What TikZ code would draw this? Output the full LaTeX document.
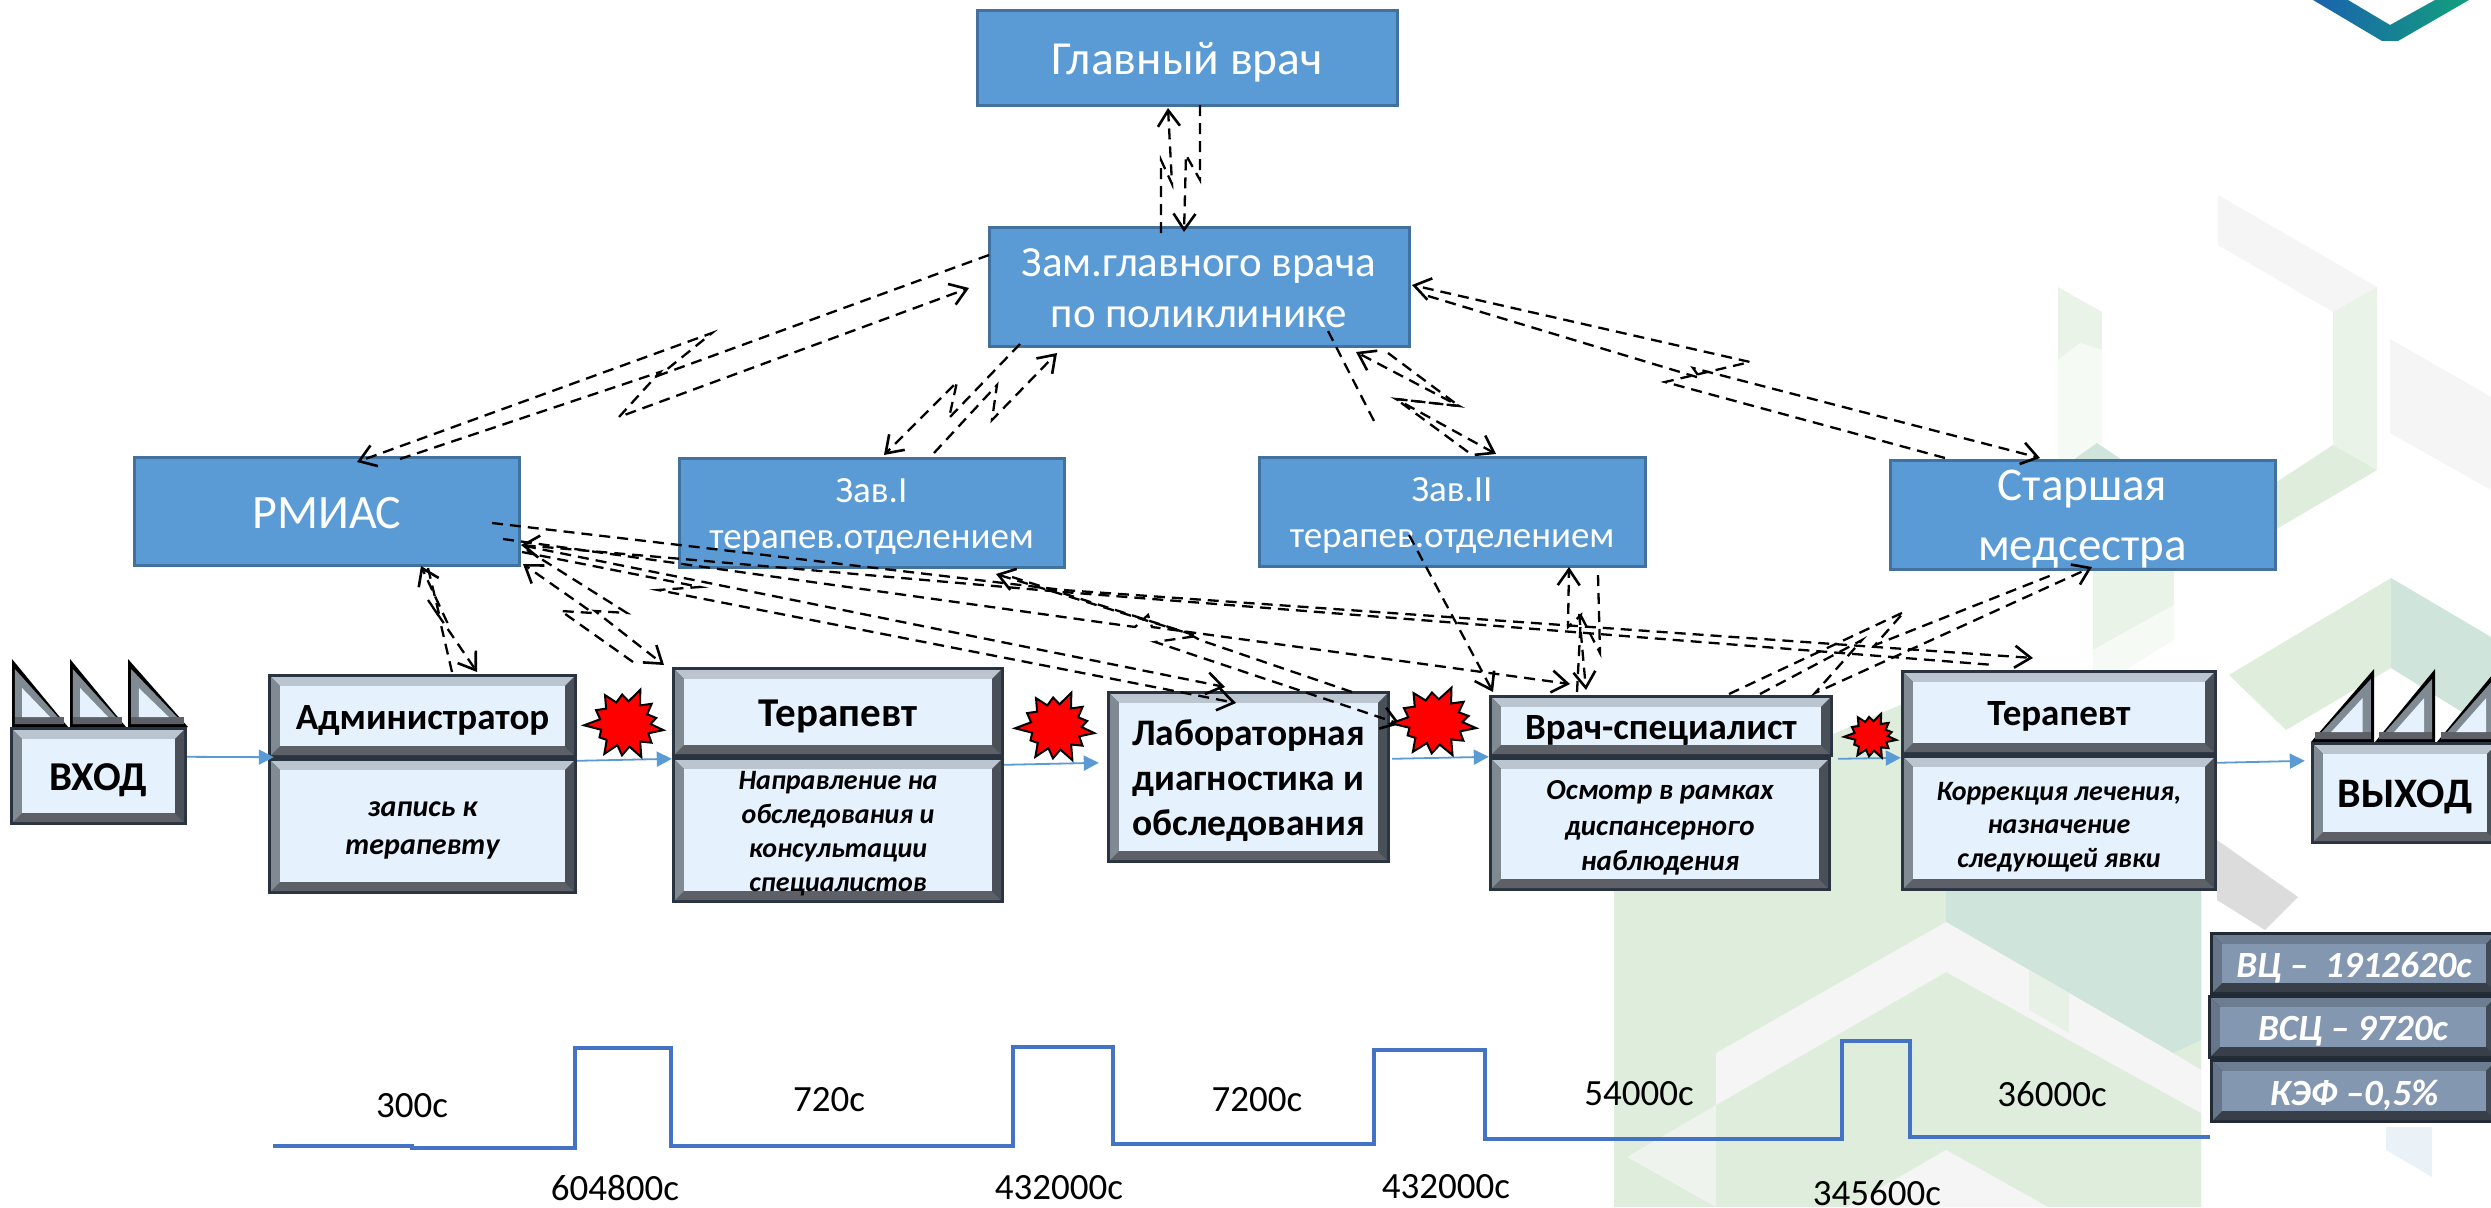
\documentclass[tikz,border=0pt]{standalone}
\usepackage{fontspec}
\setmainfont{Carlito}
\usetikzlibrary{arrows.meta,calc}
\definecolor{lightT}{HTML}{BAC5D0}\definecolor{lightL}{HTML}{7F8A93}\definecolor{lightR}{HTML}{4A5058}\definecolor{lightB}{HTML}{5D6167}\definecolor{lightF}{HTML}{E5F1FD}\definecolor{lightO}{HTML}{2A3440}
\definecolor{darkT}{HTML}{6C7C91}\definecolor{darkL}{HTML}{66758A}\definecolor{darkR}{HTML}{414A57}\definecolor{darkB}{HTML}{383F49}\definecolor{darkF}{HTML}{8497B0}\definecolor{darkO}{HTML}{222A35}
\definecolor{boxblue}{HTML}{5B9BD5}\definecolor{boxedge}{HTML}{41719C}\definecolor{wave}{HTML}{4472C4}
\definecolor{bgG}{HTML}{F5F5F5}\definecolor{bgP}{HTML}{EAF3E8}\definecolor{bgW}{HTML}{F6FAF5}\definecolor{bgM}{HTML}{DFEEDC}\definecolor{bgT}{HTML}{CFE4DA}\definecolor{bgD}{HTML}{DCDCDC}
\definecolor{logoB}{HTML}{1A62AE}\definecolor{logoE}{HTML}{12A07C}
\newcommand{\fs}[2]{\fontsize{#1}{#2}\selectfont}
\tikzset{
  x=1pt,y=-1pt,
  bluebox/.style={fill=boxblue,draw=boxedge,line width=3pt,inner sep=0pt},
  boxtext/.style={inner sep=0pt,text=white,align=center},
  dashconn/.style={draw=black,line width=2.3pt,dash pattern=on 11pt off 7pt,line join=miter},
  dashtip/.style={dashconn,-{Straight Barb[length=16pt,width=22pt,line width=2.6pt]}},
  dashback/.style={dashconn,{Straight Barb[length=16pt,width=22pt,line width=2.6pt]}-},
  flow/.style={draw=boxblue,line width=1.8pt,-{Triangle[length=15pt,width=15pt]}},
  blast/.style={fill=red,draw=black,line width=2pt,line join=miter,miter limit=4},
  lab/.style={inner sep=0pt,font=\fs{37}{37}},
}
% scheme; name, x1, y1, x2, y2, font, text
\newcommand{\bevelbox}[8][light]{%
  \fill[#1O] (#3,#4) rectangle (#5,#6);
  \fill[#1T] (#3+3,#4+3) -- (#5-3,#4+3) -- (#5-12,#4+12) -- (#3+12,#4+12) -- cycle;
  \fill[#1B] (#3+3,#6-3) -- (#5-3,#6-3) -- (#5-12,#6-12) -- (#3+12,#6-12) -- cycle;
  \fill[#1L] (#3+3,#4+3) -- (#3+12,#4+12) -- (#3+12,#6-12) -- (#3+3,#6-3) -- cycle;
  \fill[#1R] (#5-3,#4+3) -- (#5-12,#4+12) -- (#5-12,#6-12) -- (#5-3,#6-3) -- cycle;
  \fill[#1F] (#3+12,#4+12) rectangle (#5-12,#6-12);
  \node[inner sep=0pt,minimum width={#5-#3},minimum height={#6-#4}] (#2) at ({(#3+#5)/2},{(#4+#6)/2}) {};
  \node[inner sep=0pt,align=center,font=#7] (#2txt) at ([yshift=-4pt]#2.center) {#8};
}
% tip x, tip y, base y, signed width
\newcommand{\tooth}[4]{%
  \fill[black] (#1,#2) -- (#1,#3) -- (#1+#4,#3) -- cycle;
  \fill[lightL] (#1+0.05*#4,#2+10) -- (#1+0.05*#4,#3-3) -- (#1+0.93*#4,#3-3) -- cycle;
  \fill[lightB] (#1+0.05*#4,#3-10) -- (#1+0.93*#4,#3-10) -- (#1+0.93*#4,#3-3) -- (#1+0.05*#4,#3-3) -- cycle;
  \fill[lightF] (#1+0.18*#4,#2+29) -- (#1+0.18*#4,#3-10) -- (#1+0.68*#4,#3-10) -- cycle;
}
% name, centre x, centre y, half width, half height
\newcommand{\burst}[5]{%
  \coordinate (#1) at (#2,#3);
  \filldraw[blast,shift={(#2,#3)},xscale=#4,yscale=#5]
   (10:.95)--(24:.62)--(38:.82)--(52:.6)--(66:.98)--(80:.62)--(95:.85)--(108:.6)--(122:.95)--(136:.62)--(150:.72)--(165:.6)--(178:1)--(192:.62)--(208:.8)--(222:.62)--(238:.92)--(250:.62)--(265:.8)--(278:.62)--(292:1)--(306:.62)--(320:.85)--(334:.6)--(348:.78)--(0:.62)--cycle;
}
\begin{document}
\begin{tikzpicture}
\useasboundingbox (0,0) rectangle (2491,1207);
\clip (0,0) rectangle (2491,1207);
\fill[white] (0,0) rectangle (2491,1207);
% background decoration
\fill[bgG] (2218,195) -- (2377,287) -- (2333,312) -- (2218,245) -- cycle;
\fill[bgP] (2377,287) -- (2333,312) -- (2333,445) -- (2377,470) -- cycle;
\fill[bgP] (2058,287) -- (2102,312) -- (2102,350) -- (2080,343) -- (2058,360) -- cycle;
\fill[bgW] (2058,360) -- (2080,343) -- (2102,350) -- (2102,443) -- (2058,467) -- cycle;
\fill[bgG] (2390,339) -- (2491,397) -- (2491,490) -- (2390,433) -- cycle;
\fill[bgM] (2333,445) -- (2377,470) -- (2275,530) -- (2275,483) -- cycle;
\fill[bgT] (2097,443) -- (2125,462) -- (2070,462) -- cycle;
\fill[bgP] (2093,569) -- (2174,569) -- (2174,605) -- (2093,650) -- cycle;
\fill[bgW] (2093,650) -- (2174,605) -- (2174,640) -- (2093,690) -- cycle;
\fill[bgM] (2391,578) -- (2391,668) -- (2286,730) -- (2229,675) -- cycle;
\fill[bgT] (2391,578) -- (2491,637) -- (2491,730) -- (2391,668) -- cycle;
\fill[bgM] (1614,1207) -- (1614,830) -- (1900,705) -- (2000,690) -- (2201,690) -- (2201,1207) -- cycle;
\fill[bgT] (1946,700) -- (2201,700) -- (2201,1040) -- (2173,1053) -- (1946,922) -- cycle;
\fill[bgD] (2217,840) -- (2298,897) -- (2265,930) -- (2217,900) -- cycle;
\fill[bgG] (1946,922) -- (2173,1053) -- (2201,1070) -- (2201,1113) -- (1946,972) -- (1716,1105) -- (1716,1053) -- cycle;
\fill[bgG!70!bgM] (1716,1105) -- (1627,1157) -- (1716,1207) -- cycle;
\fill[bgG] (1946,1150) -- (2048,1207) -- (1847,1207) -- cycle;
\fill[bgM!60!bgG] (2029,970) -- (2069,993) -- (2069,1033) -- (2029,1010) -- cycle;
\fill[bgW!60!boxblue!30!white] (2386,1127) -- (2432,1127) -- (2432,1177) -- (2386,1150) -- cycle;
% logo
\shade[left color=logoB,middle color=logoB,right color=logoE] (2313,0) -- (2382,41) -- (2398,41) -- (2469,0) -- (2435,0) -- (2390,25) -- (2348,0) -- cycle;
% blue boxes
\node[bluebox,minimum width=420pt,minimum height=94pt] (chief) at (1187,58) {};
\node[boxtext,font=\fs{47.5}{54}] (chieftxt) at ([yshift=-4pt]chief.center) {Главный врач};
\node[bluebox,minimum width=420pt,minimum height=119pt] (deputy) at (1199,286.5) {};
\node[boxtext,font=\fs{43}{51}] (deputytxt) at ([yshift=-2pt]deputy.center) {Зам.главного врача\\по поликлинике};
\node[bluebox,minimum width=385pt,minimum height=108pt] (rmias) at (327,511) {};
\node[boxtext,font=\fs{48}{50}] (rmiastxt) at ([yshift=-2pt]rmias.center) {РМИАС};
\node[bluebox,minimum width=385pt,minimum height=109pt] (headone) at (871.5,512.5) {};
\node[boxtext,font=\fs{37}{46}] (headonetxt) at ([yshift=-4pt]headone.center) {Зав.I\\терапев.отделением};
\node[bluebox,minimum width=386pt,minimum height=109pt] (headtwo) at (1452,511.5) {};
\node[boxtext,font=\fs{37}{46}] (headtwotxt) at ([yshift=-4pt]headtwo.center) {Зав.II\\терапев.отделением};
\node[bluebox,minimum width=385pt,minimum height=109pt] (nurse) at (2082.5,514.5) {};
\node[boxtext,font=\fs{47}{60}] (nursetxt) at ([yshift=-5pt]nurse.center) {Старшая\\медсестра};
% factories
\tooth{12}{659}{727}{56}\tooth{70}{659}{727}{56}\tooth{128}{659}{727}{60}
\tooth{2374}{669}{742}{-63}\tooth{2435}{669}{742}{-60}\tooth{2497}{669}{742}{-60}
% process boxes
\bevelbox{enter}{10}{727}{187}{825}{\fs{41}{41}\bfseries}{ВХОД}
\bevelbox{admin}{268}{674}{577}{758}{\fs{37}{37}\bfseries}{Администратор}
\bevelbox{admintask}{268}{758}{577}{894}{\fs{30}{38}\bfseries\itshape}{запись к\\терапевту}
\bevelbox{ther}{672}{667}{1004}{757}{\fs{41}{41}\bfseries}{Терапевт}
\bevelbox{thertask}{672}{757}{1004}{903}{\fs{28}{34}\bfseries\itshape}{Направление на\\обследования и\\консультации\\специалистов}
\bevelbox{lab}{1107}{691}{1390}{863}{\fs{37.5}{45}\bfseries}{Лабораторная\\диагностика и\\обследования}
\bevelbox{spec}{1489}{695}{1833}{757}{\fs{37}{37}\bfseries}{Врач-специалист}
\bevelbox{spectask}{1489}{757}{1831}{891}{\fs{29}{35.5}\bfseries\itshape}{Осмотр в рамках\\диспансерного\\наблюдения}
\bevelbox{thertwo}{1901}{670}{2217}{755}{\fs{37}{37}\bfseries}{Терапевт}
\bevelbox{thertwotask}{1901}{755}{2217}{891}{\fs{28}{33.5}\bfseries\itshape}{Коррекция лечения,\\назначение\\следующей явки}
\bevelbox{leave}{2311}{742}{2499}{844}{\fs{42}{42}\bfseries}{ВЫХОД}
% summary boxes
\bevelbox[dark]{cyclea}{2210}{932}{2498}{995}{\color{white}\fs{37}{37}\bfseries\itshape}{ВЦ –\ \ 1912620с}
\bevelbox[dark]{cycleb}{2208}{995}{2498}{1059}{\color{white}\fs{37}{37}\bfseries\itshape}{ВСЦ – 9720с}
\bevelbox[dark]{cyclec}{2210}{1059}{2498}{1123}{\color{white}\fs{37}{37}\bfseries\itshape}{КЭФ –0,5\%}
% flow arrows
\draw[flow] ([yshift=-30pt]enter.north east) -- ([xshift=6pt,yshift=1pt]admin.south west);
\draw[flow] ([yshift=-3pt]admintask.north east) -- ([yshift=-2pt]thertask.north west);
\draw[flow] ([yshift=-8pt]thertask.north east) -- ([xshift=-8pt,yshift=-72pt]lab.north west);
\draw[flow] ([xshift=2pt,yshift=-68pt]lab.north east) -- ([yshift=-62pt]spec.north west);
\draw[flow] ([xshift=7pt,yshift=-2pt]spectask.north east) -- ([yshift=-3pt]thertwotask.north west);
\draw[flow] ([yshift=-8pt]thertwotask.north east) -- ([xshift=-6pt,yshift=-19pt]leave.north west);
% free ends of the dashed connectors
\path (1161,233) coordinate (ca) (1168,108) coordinate (cb)
      (1200,105) coordinate (cc) (1184,232) coordinate (cd)
      (989,255) coordinate (ce) (357,462) coordinate (cf)
      (400,459) coordinate (cg) (969,288) coordinate (ch)
      (1020,344) coordinate (ci) (884,455) coordinate (cj)
      (934,453) coordinate (ck) (1057,353) coordinate (cl)
      (1388,353) coordinate (cm) (1496,454) coordinate (cn)
      (1468,452) coordinate (co) (1356,352) coordinate (cp)
      (1328,331) coordinate (cq) (1375,423) coordinate (cr)
      (1945,458) coordinate (cs) (1412,285) coordinate (ct)
      (1428,296) coordinate (cu) (2040,458) coordinate (cv)
      (1729,694) coordinate (cw) (2052,575) coordinate (cx)
      (1760,694) coordinate (cy) (2092,567) coordinate (cz)
      (1409,535) coordinate (da) (1493,692) coordinate (db)
      (1577,692) coordinate (dc) (1569,567) coordinate (dd)
      (1598,575) coordinate (de) (1586,690) coordinate (df)
      (492,523) coordinate (dg) (2033,658) coordinate (dh)
      (521,545) coordinate (di) (1994,665) coordinate (dj)
      (503,539) coordinate (dk) (1570,684) coordinate (dl)
      (1352,692) coordinate (dm) (996,574) coordinate (dn)
      (1012,577) coordinate (do) (1400,724) coordinate (dp)
      (522,552) coordinate (dq) (1236,703) coordinate (dr)
      (525,546) coordinate (ds) (1225,687) coordinate (dt)
      (452,672) coordinate (du) (421,566) coordinate (dv)
      (428,568) coordinate (dw) (477,672) coordinate (dx)
      (633,662) coordinate (dy) (523,564) coordinate (dz)
      (527,550) coordinate (ea) (664,665) coordinate (eb);
% dashed connectors
\draw[dashtip] (ca) -- (1161,160) -- (1172,184) -- (cb);
\draw[dashtip] (cc) -- (1200,180) -- (1186,155) -- (cd);
\draw[dashtip] (ce) -- (660,375) -- (712,333) -- (cf);
\draw[dashtip] (cg) -- (660,372) -- (619,417) -- (ch);
\draw[dashtip] (ci) -- (949,418) -- (957,382) -- (cj);
\draw[dashtip] (ck) -- (997,385) -- (992,420) -- (cl);
\draw[dashtip] (cm) -- (1459,406) -- (1396,399) -- (cn);
\draw[dashtip] (co) -- (1396,399) -- (1459,406) -- (cp);
\draw[dashconn] (cq) -- (cr);
\draw[dashtip] (cs) -- (1665,382) -- (1750,362) -- (ct);
\draw[dashtip] (cu) -- (1700,378) -- (1693,368) -- (cv);
\draw[dashconn] (cw) -- (1904,612) -- (1875,645) -- (cx);
\draw[dashtip] (cy) -- (1862,640) -- (1815,693) -- (cz);
\draw[dashtip] (da) -- (db);
\draw[dashtip] (dc) -- (1581,615) -- (1568,627) -- (dd);
\draw[dashtip] (de) -- (1600,653) -- (1579,612) -- (df);
\draw[dashtip] (dg) -- (1063,590) -- (dh);
\draw[dashback] (di) -- (1063,592) -- (dj);
\draw[dashtip] (dk) -- (1135,627) -- (1148,615) -- (1152,627) -- (dl);
\draw[dashtip] (dm) -- (1200,640) -- (1187,633) -- (dn);
\draw[dashtip] (do) -- (1197,636) -- (1155,642) -- (dp);
\draw[dashtip] (dq) -- (700,587) -- (658,590) -- (dr);
\draw[dashtip] (ds) -- (dt);
\draw[dashtip] (du) -- (441,625) -- (447,622) -- (dv);
\draw[dashtip] (dw) -- (440,618) -- (428,600) -- (dx);
\draw[dashtip] (dy) -- (561,611) -- (593,613) -- (dz);
\draw[dashtip] (ea) -- (627,613) -- (595,611) -- (eb);
% bursts
\burst{burstone}{625}{724}{41}{37}
\burst{bursttwo}{1056}{727}{41}{37}
\burst{burstthree}{1435}{722}{44}{37}
\burst{burstfour}{1871}{736}{27}{24}
% waveform
\draw[wave,line width=4pt,line join=miter] (273,1146) -- (412,1146) -- (412,1148) -- (575,1148) -- (575,1048) -- (671,1048) -- (671,1146) -- (1013,1146) -- (1013,1047) -- (1113,1047) -- (1113,1144) -- (1374,1144) -- (1374,1050) -- (1485,1050) -- (1485,1139) -- (1842,1139) -- (1842,1041) -- (1910,1041) -- (1910,1137) -- (2210,1137);
% time labels
\node[lab] (tone) at (412,1106) {300с};
\node[lab] (ttwo) at (615,1188) {604800с};
\node[lab] (tthree) at (829,1100) {720с};
\node[lab] (tfour) at (1059,1188) {432000с};
\node[lab] (tfive) at (1257,1100) {7200с};
\node[lab] (tsix) at (1446,1187) {432000с};
\node[lab] (tseven) at (1639,1094) {54000с};
\node[lab] (teight) at (1877,1193) {345600с};
\node[lab] (tnine) at (2052,1094) {36000с};
\end{tikzpicture}
\end{document}
